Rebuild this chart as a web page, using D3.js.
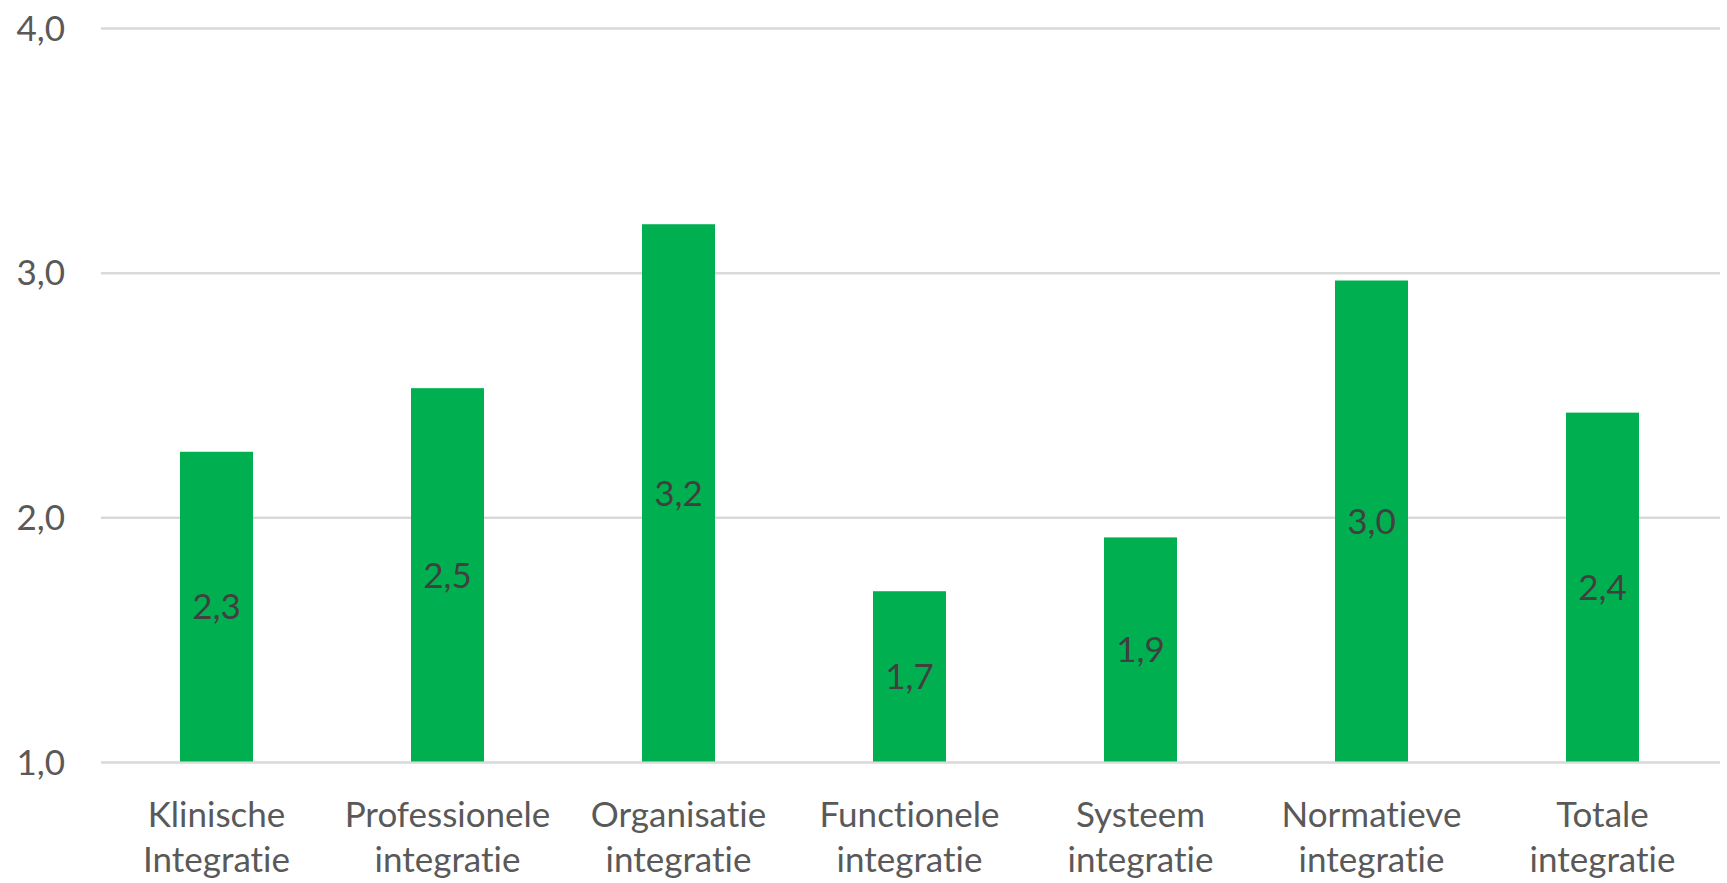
<!DOCTYPE html>
<html>
<head>
<meta charset="utf-8">
<script src="https://cdn.jsdelivr.net/npm/d3@7"></script>
<style>
  body { margin: 0; background: #fff; }
  text { font-family: Lato, "Open Sans", sans-serif; font-variant-ligatures: none; }
</style>
</head>
<body>
<svg id="chart" width="1727" height="883"></svg>
<script>
'use strict';
// data
const categories = [
  'Klinische Integratie',
  'Professionele integratie',
  'Organisatie integratie',
  'Functionele integratie',
  'Systeem integratie',
  'Normatieve integratie',
  'Totale integratie'
];
const scores = [2.27, 2.53, 3.2, 1.7, 1.92, 2.97, 2.43];
const yTicks = [1, 2, 3, 4];

const svg = d3.select('#chart');
const nl = d3.formatLocale({ decimal: ',', thousands: '.', grouping: [3], currency: ['€', ''] });
const fmt = nl.format('.1f');

const x = d3.scaleBand()
  .domain(categories)
  .range([101, 1718])
  .paddingInner(0.684)
  .paddingOuter(0.342);

const y = d3.scaleLinear()
  .domain([1, 4])
  .range([762.5, 28.5]);

// gridlines
svg.append('g')
  .selectAll('line')
  .data(yTicks)
  .join('line')
  .attr('x1', 101)
  .attr('x2', 1720)
  .attr('y1', (d) => y(d))
  .attr('y2', (d) => y(d))
  .attr('stroke', '#d9d9d9')
  .attr('stroke-width', 2.5);

// y tick labels
svg.append('g')
  .selectAll('text')
  .data(yTicks)
  .join('text')
  .attr('x', 65)
  .attr('y', (d) => y(d))
  .attr('dy', '0.35em')
  .attr('text-anchor', 'end')
  .attr('font-size', 35)
  .attr('fill', '#595959')
  .text((d) => fmt(d));

// bars
svg.append('g')
  .selectAll('rect')
  .data(scores)
  .join('rect')
  .attr('x', (d, i) => x(categories[i]))
  .attr('width', x.bandwidth())
  .attr('y', (d) => y(d))
  .attr('height', (d) => y(1) - y(d) - 1)
  .attr('fill', '#00b050');

// value labels in middle of bars
svg.append('g')
  .selectAll('text')
  .data(scores)
  .join('text')
  .attr('x', (d, i) => x(categories[i]) + x.bandwidth() / 2)
  .attr('y', (d) => (y(d) + y(1)) / 2)
  .attr('dy', '0.35em')
  .attr('text-anchor', 'middle')
  .attr('font-size', 35)
  .attr('fill', '#404040')
  .text((d) => fmt(d));

// category labels, two lines each
const cat = svg.append('g')
  .selectAll('text')
  .data(categories)
  .join('text')
  .attr('text-anchor', 'middle')
  .attr('font-size', 35)
  .attr('fill', '#595959')
  .attr('transform', (d) => `translate(${x(d) + x.bandwidth() / 2},815)`);

cat.selectAll('tspan')
  .data((d) => d.split(' '))
  .join('tspan')
  .attr('x', 0)
  .attr('y', (d, i) => i * 45)
  .attr('dy', '0.35em')
  .text((d) => d);
</script>
</body>
</html>
